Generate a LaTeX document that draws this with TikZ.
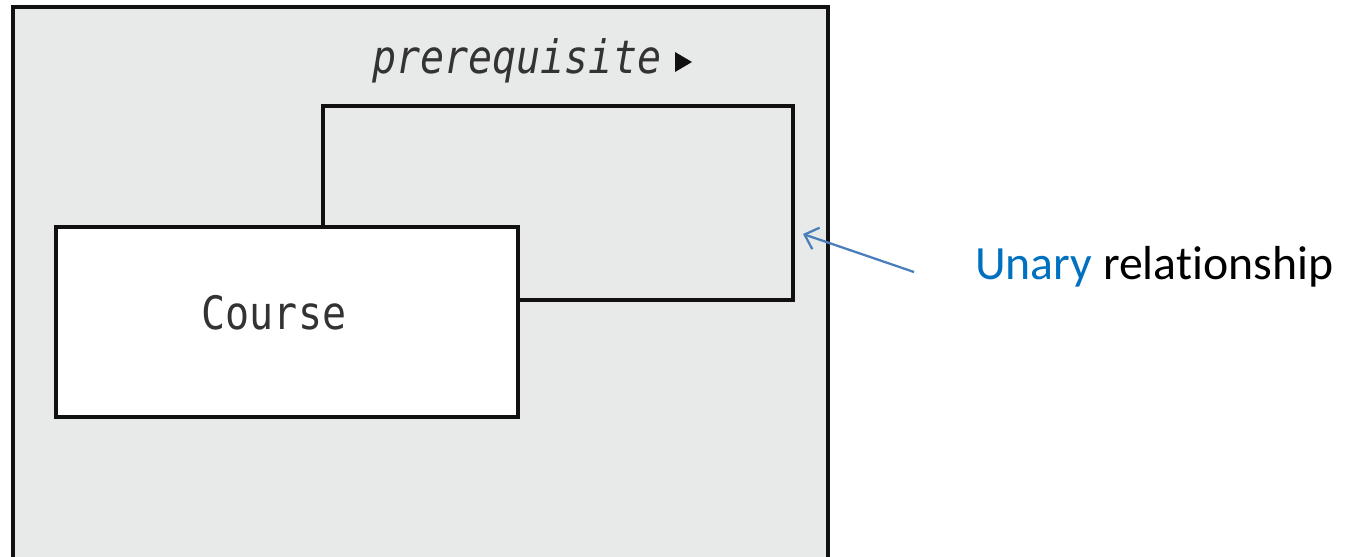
\documentclass[tikz,border=0pt]{standalone}
\usepackage{fontspec}
\setmainfont{Carlito}[Ligatures=NoCommon]
\newfontfamily\diagmono{DejaVu Sans Mono}
\usetikzlibrary{arrows.meta}
\definecolor{panelgray}{HTML}{E8EAE9}
\definecolor{edgeblack}{HTML}{111111}
\definecolor{notebluetext}{HTML}{0070C0}
\definecolor{arrowblue}{HTML}{4A7EBB}
\tikzset{
  panel/.style={draw=edgeblack, fill=panelgray, line width=3pt},
  relbox/.style={draw=edgeblack, line width=3pt},
  entitybox/.style={draw=edgeblack, fill=white, line width=3pt},
  monotext/.style={font=\diagmono\fontsize{30}{36}\selectfont, text=black!80, inner sep=0pt, yscale=1.15},
  notetext/.style={font=\fontsize{35.8}{42}\selectfont, inner sep=0pt, anchor=base west},
  pointer/.style={draw=arrowblue, line width=1.7pt, -{Straight Barb[length=9pt,width=17pt,line width=1.7pt]}}
}
\begin{document}
\begin{tikzpicture}[x=0.75pt, y=-0.75pt]
  \useasboundingbox (0,0) rectangle (1354,557);
  \fill[white] (0,0) rectangle (1354,557);
  \begin{scope}
    \clip (0,0) rectangle (1354,557);
    % diagram frame, running off the bottom edge
    \draw[panel] (13,7) rectangle (828,600);
  \end{scope}
  % relationship loop behind the entity
  \draw[relbox] (323,106) rectangle (793,300);
  % role label with its direction marker
  \node[monotext, anchor=base west] (role) at (372,73) {\itshape prerequisite};
  \fill[edgeblack] (675,52) -- (692,62) -- (675,72) -- cycle;
  % entity box
  \node[entitybox, minimum width=462pt*0.75, minimum height=190pt*0.75, inner sep=0pt] (course) at (287,321.5) {};
  \node[monotext] (coursename) at (274,313) {Course};
  % annotation
  \node[notetext] (note) at (975,279) {\textcolor{notebluetext}{Unary} relationship};
  \coordinate (tail) at (914,272);
  \coordinate (tip) at (803,234);
  \draw[pointer] (tail) -- (tip);
\end{tikzpicture}
\end{document}
